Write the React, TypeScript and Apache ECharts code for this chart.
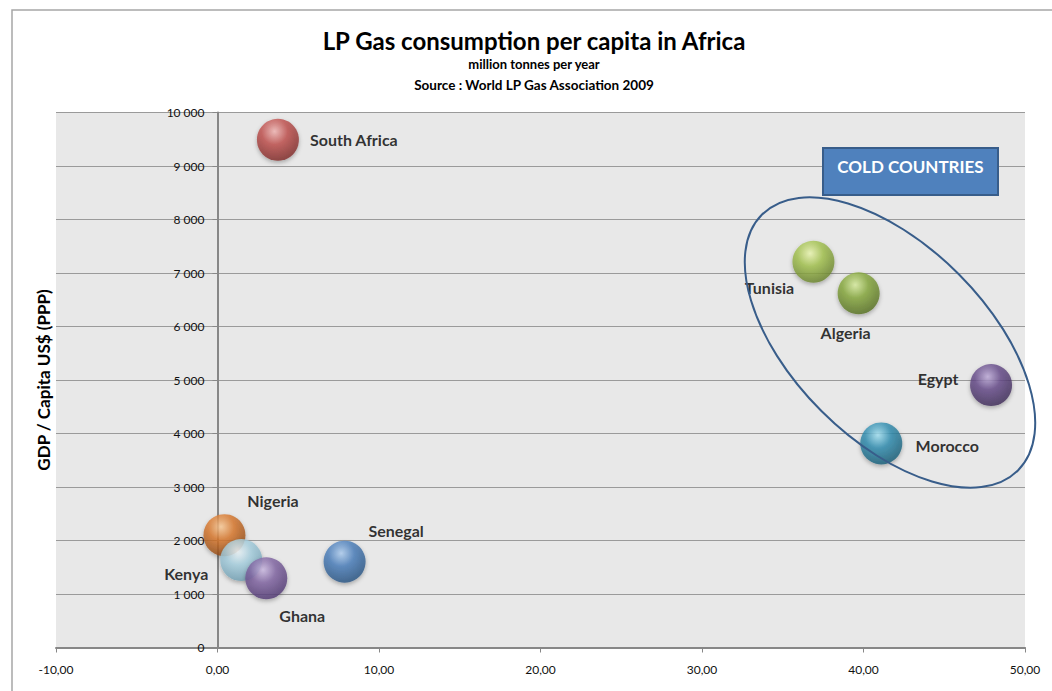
import React, { useEffect, useRef } from "react";
import * as echarts from "echarts";

const countries = ["South Africa", "Nigeria", "Kenya", "Ghana", "Senegal", "Tunisia", "Algeria", "Egypt", "Morocco"];
const lpgPerCapita = [3.74, 0.43, 1.47, 3.02, 7.87, 36.9, 39.7, 47.9, 41.1];
const gdpPerCapita = [9490, 2100, 1635, 1295, 1605, 7210, 6620, 4905, 3815];
const bubbleSizes = [42, 42, 42, 42, 42, 42, 42, 42, 42];
const baseColors = ["#c0504d", "#d9772b", "#a7d0e0", "#8064a2", "#4a7ebb", "#a3c24e", "#86a83c", "#664b8a", "#2f8db0"];
const lightColors = ["#f3b8b6", "#fbcb98", "#f2fafd", "#cdbce4", "#b0cff2", "#eef9b4", "#d9eea0", "#bfacda", "#a4e2f4"];
const darkColors = ["#742422", "#834010", "#6796aa", "#48316a", "#224c78", "#5f7826", "#4e661d", "#37264f", "#14546c"];
const labelOffsets = [[76, 0], [48.5, -35], [-55, 13], [36, 37], [51.5, -31], [-44, 26], [-13, 39], [-53, -7], [66, 2]];

const FONT = "Lato, 'Open Sans', sans-serif";
const X_MIN = -10;
const X_MAX = 50;
const GRID_LEFT = 56;
const GRID_RIGHT = 27;
const WIDTH = 1052;

export default function App() {
  const ref = useRef<HTMLDivElement>(null);

  useEffect(() => {
    if (!ref.current) return;
    const chart = echarts.init(ref.current, undefined, { renderer: "svg" });

    // place the y axis where x = 0 (the value axis crosses there in the reference)
    const plotW = WIDTH - GRID_LEFT - GRID_RIGHT;
    const yAxisOffset = -((0 - X_MIN) / (X_MAX - X_MIN)) * plotW;

    const data = countries.map((name, i) => ({
      name,
      value: [lpgPerCapita[i], gdpPerCapita[i]],
      symbolSize: bubbleSizes[i],
      itemStyle: {
        color: new echarts.graphic.RadialGradient(0.42, 0.3, 0.78, [
          { offset: 0, color: lightColors[i] },
          { offset: 0.4, color: baseColors[i] },
          { offset: 1, color: darkColors[i] },
        ]),
        shadowColor: "rgba(0,0,0,0.35)",
        shadowBlur: 4,
        shadowOffsetY: 2,
      },
      label: {
        show: true,
        position: "inside",
        offset: labelOffsets[i],
        formatter: name,
        color: "#000",
        fontWeight: "bold",
        fontSize: 16,
        fontFamily: FONT,
      },
    }));

    chart.setOption({
      animation: false,
      grid: {
        left: GRID_LEFT,
        right: GRID_RIGHT,
        top: 112.5,
        bottom: 43.5,
        containLabel: false,
        outerBoundsMode: "none",
        show: true,
        backgroundColor: "#e8e8e8",
        borderWidth: 0,
      },
      xAxis: {
        type: "value",
        min: X_MIN,
        max: X_MAX,
        interval: 10,
        axisLine: { show: true, lineStyle: { color: "#878787", width: 2 } },
        axisTick: { show: true, length: 5, lineStyle: { color: "#878787" } },
        splitLine: { show: false },
        axisLabel: {
          color: "#111",
          fontSize: 12,
          fontFamily: FONT,
          margin: 16,
          formatter: (v: number) => v.toFixed(2).replace(".", ","),
        },
      },
      yAxis: {
        type: "value",
        min: 0,
        max: 10000,
        interval: 1000,
        offset: yAxisOffset,
        name: "GDP / Capita US$ (PPP)",
        nameLocation: "middle",
        nameRotate: 90,
        nameGap: 166,
        nameTextStyle: { color: "#000", fontWeight: "bold", fontSize: 17, fontFamily: FONT },
        axisLine: { show: true, onZero: false, lineStyle: { color: "#878787", width: 2 } },
        axisTick: { show: true, length: 5, lineStyle: { color: "#878787" } },
        splitLine: { show: true, lineStyle: { color: "#9a9a9a", width: 1 } },
        axisLabel: {
          color: "#111",
          fontSize: 12,
          fontFamily: FONT,
          margin: 13,
          formatter: (v: number) => v.toLocaleString("en-US").replace(/,/g, " "),
        },
      },
      series: [
        {
          type: "scatter",
          data,
          z: 3,
        },
      ],
      graphic: [
        {
          type: "rect",
          z: -10,
          silent: true,
          shape: { x: 12, y: 10, width: 1100, height: 720 },
          style: { fill: "none", stroke: "#a6a6a6", lineWidth: 1.5 },
        },
        {
          type: "text",
          x: 534,
          y: 40,
          style: {
            text: "LP Gas consumption per capita in Africa",
            textAlign: "center",
            textVerticalAlign: "middle",
            fill: "#000",
            font: `bold 24px ${FONT}`,
          },
        },
        {
          type: "text",
          x: 534,
          y: 64,
          style: {
            text: "million tonnes per year",
            textAlign: "center",
            textVerticalAlign: "middle",
            fill: "#000",
            font: `bold 13px ${FONT}`,
          },
        },
        {
          type: "text",
          x: 534,
          y: 85,
          style: {
            text: "Source : World LP Gas Association 2009",
            textAlign: "center",
            textVerticalAlign: "middle",
            fill: "#000",
            font: `bold 13.5px ${FONT}`,
          },
        },
        {
          type: "rect",
          z: 20,
          shape: { x: 823, y: 148, width: 175, height: 47 },
          style: { fill: "#4f81bd", stroke: "#385d8a", lineWidth: 2 },
        },
        {
          type: "text",
          z: 21,
          x: 910.5,
          y: 166,
          style: {
            text: "COLD COUNTRIES",
            textAlign: "center",
            textVerticalAlign: "middle",
            fill: "#ffffff",
            font: `bold 17px ${FONT}`,
          },
        },
        {
          type: "ellipse",
          z: 20,
          x: 890,
          y: 342.5,
          rotation: -Math.PI / 4,
          shape: { cx: 0, cy: 0, rx: 181, ry: 97 },
          style: { fill: "none", stroke: "#385d8a", lineWidth: 2 },
        },
      ],
    });

    return () => chart.dispose();
  }, []);

  return (
    <div
      ref={ref}
      style={{ position: "fixed", left: 0, top: 0, width: 1052, height: 691, background: "#fff" }}
    />
  );
}
